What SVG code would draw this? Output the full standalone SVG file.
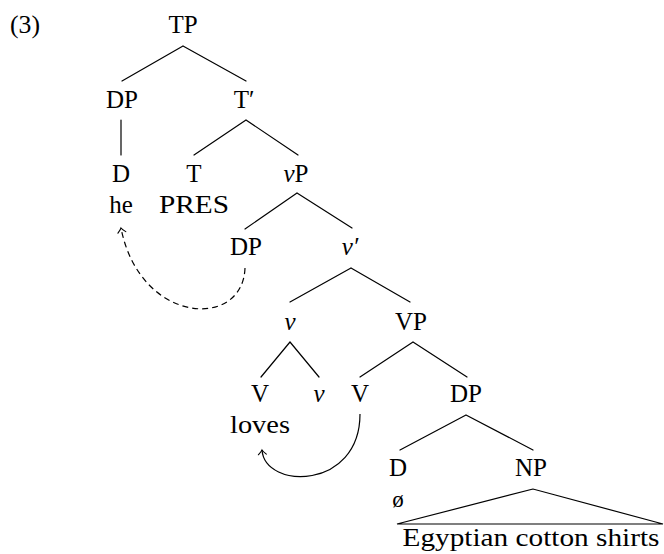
<svg xmlns="http://www.w3.org/2000/svg" width="664" height="554" viewBox="0 0 664 554">
<defs>
<style>
text{font-family:"Liberation Serif","DejaVu Serif",serif;font-size:25px;fill:#000;text-anchor:middle}
.it{font-style:italic}
.br{stroke:#000;stroke-width:1.2;fill:none;stroke-linecap:round}
.mv{stroke:#000;stroke-width:1.2;fill:none}
.dash{stroke-dasharray:6 4}
</style>
<marker id="to" markerUnits="userSpaceOnUse" markerWidth="12" markerHeight="12" refX="0" refY="0" viewBox="-6 -6 12 12" orient="auto" overflow="visible">
<path d="M -4.5 -4 Q -1.5 -0.8 0 0 Q -1.5 0.8 -4.5 4" stroke="#000" stroke-width="1.1" fill="none" stroke-linecap="round"/>
</marker>
</defs>
<rect width="664" height="554" fill="#fff"/>
<text x="10" y="33" style="text-anchor:start" textLength="30" lengthAdjust="spacingAndGlyphs">(3)</text>
<g id="connectors">
<path class="br" d="M183 46 L122 81 M183 46 L246 81"/>
<path class="br" d="M121 120 L121 155"/>
<path class="br" d="M246 120 L194 155 M246 120 L298 155"/>
<path class="br" d="M297 193 L245 229 M297 193 L352 228"/>
<path class="br" d="M351 268 L290 302 M351 268 L410 302"/>
<path class="br" d="M290 342 L261 377 M290 342 L319 377"/>
<path class="br" d="M413 342 L360 377 M413 342 L467 377"/>
<path class="br" d="M466 415 L400 450 M466 415 L533 450"/>
<path class="br" d="M533 489 L397 524 L663 524 Z"/>
<path class="mv dash" d="M245 268 C243 330 140 325 121 228" marker-end="url(#to)"/>
<path class="mv" d="M360 414 C360 490 265 490 262 450" marker-end="url(#to)"/>
</g>
<g id="TP"><text x="183" y="33">TP</text></g>
<g id="DP1"><text x="122" y="108">DP</text></g>
<g id="Tbar"><text x="244" y="108">T′</text></g>
<g id="D1"><text x="121" y="182">D</text><text x="121" y="213">he</text></g>
<g id="T"><text x="194" y="182">T</text><text x="194" y="213" textLength="70" lengthAdjust="spacingAndGlyphs">PRES</text></g>
<g id="vP"><text x="296" y="182"><tspan class="it">v</tspan>P</text></g>
<g id="DP2"><text x="246" y="255">DP</text></g>
<g id="vbar"><text x="350" y="255" class="it">v′</text></g>
<g id="v1"><text x="290" y="330" class="it">v</text></g>
<g id="VP"><text x="411" y="330">VP</text></g>
<g id="V1"><text x="260" y="402">V</text><text x="260" y="433" textLength="60" lengthAdjust="spacingAndGlyphs">loves</text></g>
<g id="v2"><text x="319" y="402" class="it">v</text></g>
<g id="V2"><text x="360" y="402">V</text></g>
<g id="DP3"><text x="466" y="402">DP</text></g>
<g id="D2"><text x="398" y="507" style="font-size:23px">ø</text><text x="398" y="476">D</text></g>
<g id="NP"><text x="531" y="476">NP</text><text x="531" y="546" textLength="257" lengthAdjust="spacingAndGlyphs">Egyptian cotton shirts</text></g>
</svg>
